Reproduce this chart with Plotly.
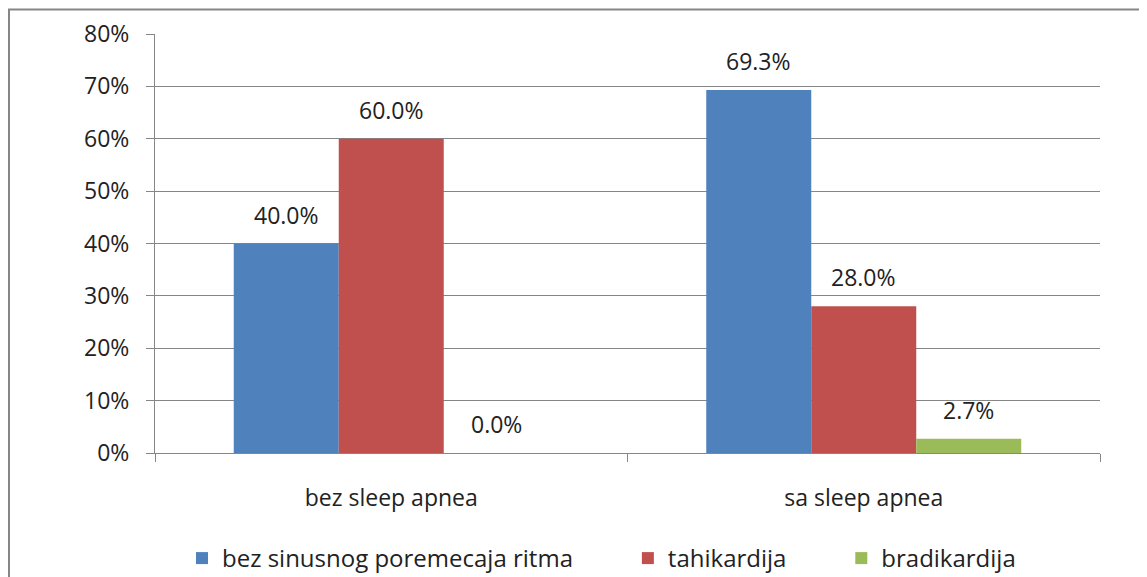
import plotly.graph_objects as go

categories = ["bez sleep apnea", "sa sleep apnea"]
series_names = ["bez sinusnog poremecaja ritma", "tahikardija", "bradikardija"]
series_values = [
    [0.400, 0.693],
    [0.600, 0.280],
    [0.000, 0.027],
]
colors = ["#4F81BD", "#C0504D", "#9BBB59"]
y_ticks = [0.0, 0.1, 0.2, 0.3, 0.4, 0.5, 0.6, 0.7, 0.8]

FONT = "Open Sans"
TXT = "#222222"
GRID = "#868686"
FS = 23

# page is drawn with an 8px body margin: figure coords = page coords - 8
W, H = 1147, 577
ml, mr, mt, mb = 147, 55, 26, 132
pw, ph = W - ml - mr, H - mt - mb
bargap = 1.0 / 3.0
nser = len(series_names)
bw = (1 - bargap) / nser

pad = "\u00a0" * 8
fig = go.Figure()
for i, (name, vals) in enumerate(zip(series_names, series_values)):
    fig.add_trace(go.Bar(
        x=categories, y=vals, name=name + (pad if i < nser - 1 else ""),
        marker=dict(color=colors[i], line=dict(width=0)),
    ))

annotations = []
for i, vals in enumerate(series_values):
    off = (i - (nser - 1) / 2) * bw
    for j, v in enumerate(vals):
        annotations.append(dict(
            x=j + off, y=v, xref="x", yref="y", text=f"{v*100:.1f}%",
            showarrow=False, yanchor="bottom", yshift=11,
            font=dict(family=FONT, size=FS, color=TXT),
        ))

def px2x(p):
    return (p - ml) / pw

def py2y(p):
    return (H - mb - p) / ph

fig.update_layout(
    width=W, height=H,
    margin=dict(l=ml, r=mr, t=mt, b=mb, autoexpand=False),
    paper_bgcolor="white", plot_bgcolor="white",
    barmode="group", bargap=bargap, bargroupgap=0,
    font=dict(family=FONT, size=FS, color=TXT),
    annotations=annotations,
    showlegend=True,
    legend=dict(
        orientation="h", xref="container", yref="container",
        x=174 / W, xanchor="left", y=(H - 528) / H, yanchor="top",
        font=dict(family=FONT, size=24, color=TXT),
        itemwidth=30, traceorder="normal",
    ),
    shapes=[dict(
        type="rect", xref="paper", yref="paper",
        x0=px2x(1), x1=px2x(1200), y0=py2y(650), y1=py2y(1.5),
        line=dict(color=GRID, width=2), fillcolor="rgba(0,0,0,0)", layer="below",
    )],
)
fig.update_yaxes(
    range=[0, 0.8], tickvals=y_ticks, tickformat=".0%",
    showgrid=True, gridcolor=GRID, gridwidth=1,
    showline=True, linecolor=GRID, linewidth=1,
    ticks="outside", ticklen=8, tickcolor=GRID,
    ticklabelstandoff=12, zeroline=False, automargin=False,
    tickfont=dict(family=FONT, size=FS, color=TXT),
)
fig.update_xaxes(
    showgrid=False, showline=True, linecolor=GRID, linewidth=1,
    ticks="outside", ticklen=8, tickcolor=GRID, tickson="boundaries",
    ticklabelstandoff=24, automargin=False,
    tickfont=dict(family=FONT, size=FS, color=TXT),
)
fig.write_html("out.html", post_script="document.body.style.overflow='hidden';")
